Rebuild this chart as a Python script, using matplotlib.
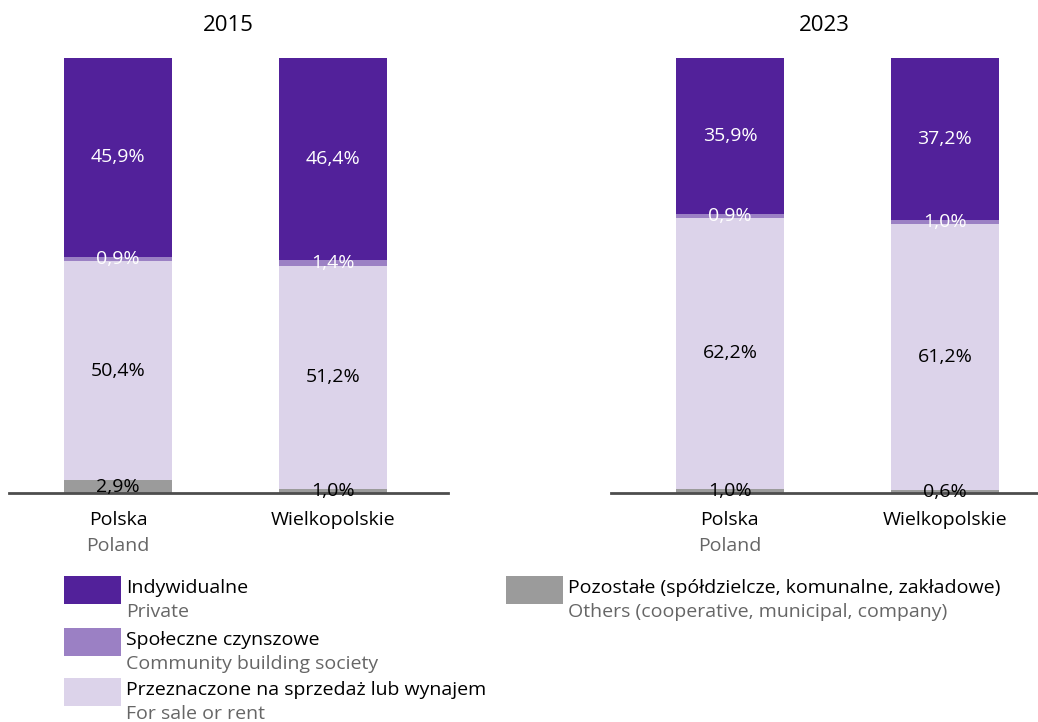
import matplotlib.pyplot as plt
from matplotlib.patches import Rectangle

plt.rcParams['font.family'] = ['Open Sans', 'DejaVu Sans']

# data
years = ["2015", "2023"]
regions = ["Polska", "Wielkopolskie"]
regions_en = ["Poland", ""]
private = {"2015": [45.9, 46.4], "2023": [35.9, 37.2]}
community = {"2015": [0.9, 1.4], "2023": [0.9, 1.0]}
for_sale = {"2015": [50.4, 51.2], "2023": [62.2, 61.2]}
others = {"2015": [2.9, 1.0], "2023": [1.0, 0.6]}

series_pl = ["Indywidualne", "Społeczne czynszowe",
             "Przeznaczone na sprzedaż lub wynajem",
             "Pozostałe (spółdzielcze, komunalne, zakładowe)"]
series_en = ["Private", "Community building society", "For sale or rent",
             "Others (cooperative, municipal, company)"]
colors = ["#52219a", "#9b80c4", "#dcd3ea", "#9b9b9b"]
label_colors = ["white", "white", "black", "black"]

W, H = 1038, 722
fig = plt.figure(figsize=(W / 100, H / 100), dpi=100)

panels = {"2015": (9, 448, -0.507, 1.535), "2023": (611, 1038, -0.553, 1.433)}
bar_w = 0.502
y_bot, y_top = 493, 58

for yr in years:
    x0, x1, lo, hi = panels[yr]
    ax = fig.add_axes([x0 / W, 1 - y_bot / H, (x1 - x0) / W, (y_bot - y_top) / H])
    ax.set_xlim(lo, hi)
    ax.set_ylim(0, 100)
    ax.axis("off")
    stack = [others[yr], for_sale[yr], community[yr], private[yr]]
    cols = colors[::-1]
    lcols = label_colors[::-1]
    xs = range(len(regions))
    bottom = [0, 0]
    for vals, c, lc in zip(stack, cols, lcols):
        ax.bar(xs, vals, width=bar_w, bottom=bottom, color=c, linewidth=0)
        for i, v in enumerate(vals):
            ax.text(i, bottom[i] + v / 2, f"{v:.1f}%".replace(".", ","),
                    ha="center", va="center", fontsize=14, color=lc)
        bottom = [b + v for b, v in zip(bottom, vals)]
    ax.axhline(0, color="#4d4d4d", linewidth=2, clip_on=False)
    for i, (r, e) in enumerate(zip(regions, regions_en)):
        ax.text(i, -6.2, r, ha="center", va="center", fontsize=14, color="black")
        if e:
            ax.text(i, -12.2, e, ha="center", va="center", fontsize=14, color="#666666")
    ax.text(0.5, 1 + 33 / 435, yr, transform=ax.transAxes, ha="center",
            va="center", fontsize=16, color="black")

# legend
leg = fig.add_axes([0, 0, 1, 1])
leg.set_xlim(0, W)
leg.set_ylim(H, 0)
leg.axis("off")
items = [(64, 576), (64, 628), (64, 678), (506, 576)]
for (x, y), c, pl, en in zip(items, colors, series_pl, series_en):
    leg.add_patch(Rectangle((x, y), 57, 28, color=c, linewidth=0))
    leg.text(x + 62, y + 12, pl, ha="left", va="center", fontsize=14, color="black")
    leg.text(x + 62, y + 36, en, ha="left", va="center", fontsize=14, color="#666666")

fig.savefig("out.png", dpi=100)
